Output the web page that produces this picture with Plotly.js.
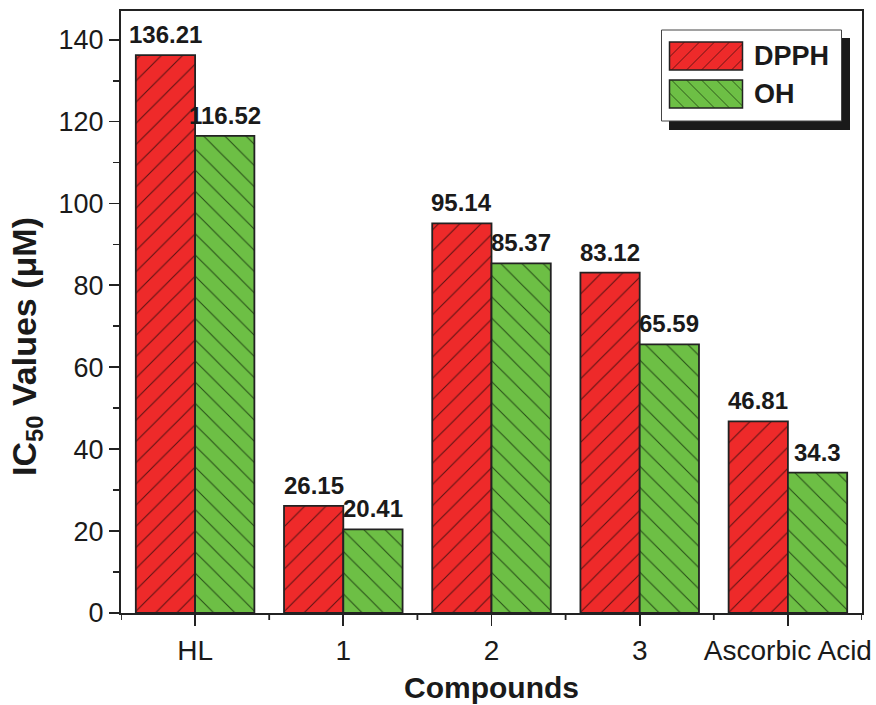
<!DOCTYPE html>
<html>
<head>
<meta charset="utf-8">
<script src="https://cdn.plot.ly/plotly-3.0.1.min.js"></script>
<style>
html,body{margin:0;padding:0;background:#fff;}
#chart{width:876px;height:705px;}
</style>
</head>
<body>
<div id="chart"></div>
<script>
const categories = ["HL", "1", "2", "3", "Ascorbic Acid"];
const dpphValues = [136.21, 26.15, 95.14, 83.12, 46.81];
const ohValues = [116.52, 20.41, 85.37, 65.59, 34.3];
const dpphLabels = ["136.21", "26.15", "95.14", "83.12", "46.81"];
const ohLabels = ["116.52", "20.41", "85.37", "65.59", "34.3"];
const seriesNames = ["DPPH", "OH"];
const yTitle = "IC<sub>50</sub> Values (μM)";
const xTitle = "Compounds";

const RED = "#EE2A2A";
const GREEN = "#6DBF45";
const FONT = "Liberation Sans, Arial, sans-serif";

const labelFont = {family: FONT, size: 24, color: "#1a1a1a", weight: "bold"};

const traces = [
  {
    type: "bar", name: seriesNames[0], x: categories, y: dpphValues,
    cliponaxis: false, showlegend: false,
    marker: {color: RED, line: {color: "#222", width: 1.8},
      pattern: {shape: "/", size: 15, solidity: 0.07, fgcolor: "#4a0f0f", fgopacity: 0.9, bgcolor: RED, fillmode: "overlay"}},
    hoverinfo: "skip"
  },
  {
    type: "bar", name: seriesNames[1], x: categories, y: ohValues,
    cliponaxis: false, showlegend: false,
    marker: {color: GREEN, line: {color: "#222", width: 1.8},
      pattern: {shape: "\\", size: 15, solidity: 0.07, fgcolor: "#1f4010", fgopacity: 0.9, bgcolor: GREEN, fillmode: "overlay"}},
    hoverinfo: "skip"
  }
];

function hatchPath(x0, x1, y0, y1, dir, step) {
  let p = "";
  const h = y0 - y1;
  for (let s = x0 - h; s < x1; s += step) {
    let ax, ay, bx, by;
    if (dir === "/") { ax = s; ay = y1; bx = s + h; by = y0; }
    else { ax = s; ay = y0; bx = s + h; by = y1; }
    let t0 = 0, t1 = 1;
    const dx = bx - ax;
    const ta = (x0 - ax) / dx, tb = (x1 - ax) / dx;
    t0 = Math.max(t0, Math.min(ta, tb)); t1 = Math.min(t1, Math.max(ta, tb));
    if (t1 <= t0) continue;
    const px0 = ax + dx * t0, py0 = ay + (by - ay) * t0;
    const px1 = ax + dx * t1, py1 = ay + (by - ay) * t1;
    p += `M${px0.toFixed(1)},${py0.toFixed(1)}L${px1.toFixed(1)},${py1.toFixed(1)}`;
  }
  return p;
}

function pxShape(x0, x1, y0, y1, extra) {
  return Object.assign({
    type: "rect", xref: "paper", yref: "paper", xanchor: 1, yanchor: 1,
    xsizemode: "pixel", ysizemode: "pixel", x0, x1, y0, y1, layer: "above"
  }, extra);
}

const shapes = [
  pxShape(-193, -12, -27, -119, {fillcolor: "#1a1a1a", line: {width: 0}}),
  pxShape(-200.5, -20.5, -19, -110, {fillcolor: "#fff", line: {color: "#444", width: 1}}),
  pxShape(-192.5, -119.5, -31, -59, {fillcolor: RED, line: {color: "#222", width: 1.5}}),
  {type: "path", xref: "paper", yref: "paper", xanchor: 1, yanchor: 1, xsizemode: "pixel", ysizemode: "pixel",
    layer: "above", path: hatchPath(-192.5, -119.5, -31, -59, "/", 15), line: {color: "#4a0f0f", width: 0.8}},
  pxShape(-192.5, -119.5, -69, -97, {fillcolor: GREEN, line: {color: "#222", width: 1.5}}),
  {type: "path", xref: "paper", yref: "paper", xanchor: 1, yanchor: 1, xsizemode: "pixel", ysizemode: "pixel",
    layer: "above", path: hatchPath(-192.5, -119.5, -69, -97, "\\", 15), line: {color: "#1f4010", width: 0.8}}
];

// minor x ticks at category boundaries
for (let i = 0; i <= categories.length; i++) {
  shapes.push({type: "line", xref: "x", yref: "paper", x0: i - 0.5, x1: i - 0.5,
    ysizemode: "pixel", yanchor: 0, y0: -1, y1: -7, layer: "above",
    line: {color: "#222", width: 1.8}});
}

const annotations = [
  {xref: "paper", yref: "paper", x: 1, y: 1, xanchor: "left", yanchor: "middle",
    xshift: -110, yshift: -45, text: "<b>" + seriesNames[0] + "</b>", showarrow: false,
    font: {family: FONT, size: 27, color: "#1a1a1a"}},
  {xref: "paper", yref: "paper", x: 1, y: 1, xanchor: "left", yanchor: "middle",
    xshift: -110, yshift: -83, text: "<b>" + seriesNames[1] + "</b>", showarrow: false,
    font: {family: FONT, size: 27, color: "#1a1a1a"}},
  {xref: "paper", yref: "paper", x: 0, y: 0.442, xanchor: "center", yanchor: "middle",
    xshift: -94, textangle: -90, text: "<b>" + yTitle + "</b>", showarrow: false,
    font: {family: FONT, size: 34, color: "#1a1a1a"}}
];

// value labels above bars (half a bar width either side of category centre)
const halfBar = 29.6;
categories.forEach((c, i) => {
  annotations.push({x: c, y: dpphValues[i], xref: "x", yref: "y", text: dpphLabels[i],
    showarrow: false, xanchor: "center", yanchor: "bottom", xshift: -halfBar, yshift: 5,
    font: labelFont});
  annotations.push({x: c, y: ohValues[i], xref: "x", yref: "y", text: ohLabels[i],
    showarrow: false, xanchor: "center", yanchor: "bottom", xshift: halfBar, yshift: 5,
    font: labelFont});
});

const layout = {
  width: 876, height: 705,
  margin: {l: 121, r: 14, t: 11, b: 92},
  paper_bgcolor: "#fff", plot_bgcolor: "#fff",
  barmode: "group", bargap: 0.2, bargroupgap: 0,
  showlegend: false,
  font: {family: FONT, color: "#1a1a1a"},
  xaxis: {
    type: "category", range: [-0.5, 4.5],
    showline: true, linecolor: "#222", linewidth: 2, mirror: true,
    ticks: "outside", ticklen: 11, tickwidth: 1.8, tickcolor: "#222",
    tickfont: {family: FONT, size: 28, color: "#1a1a1a"},
    showgrid: false, zeroline: false,
    title: {text: "<b>" + xTitle + "</b>", font: {family: FONT, size: 30, color: "#1a1a1a"}, standoff: 12}
  },
  yaxis: {
    range: [0, 147], dtick: 20, tick0: 0,
    showline: true, linecolor: "#222", linewidth: 2, mirror: true,
    ticks: "outside", ticklen: 10, tickwidth: 1.8, tickcolor: "#222",
    tickfont: {family: FONT, size: 27, color: "#1a1a1a"},
    minor: {dtick: 10, tick0: 0, ticks: "outside", ticklen: 6, tickwidth: 1.8, tickcolor: "#222", showgrid: false},
    showgrid: false, zeroline: false
  },
  shapes, annotations
};

Plotly.newPlot("chart", traces, layout, {displayModeBar: false, staticPlot: true});
</script>
</body>
</html>
